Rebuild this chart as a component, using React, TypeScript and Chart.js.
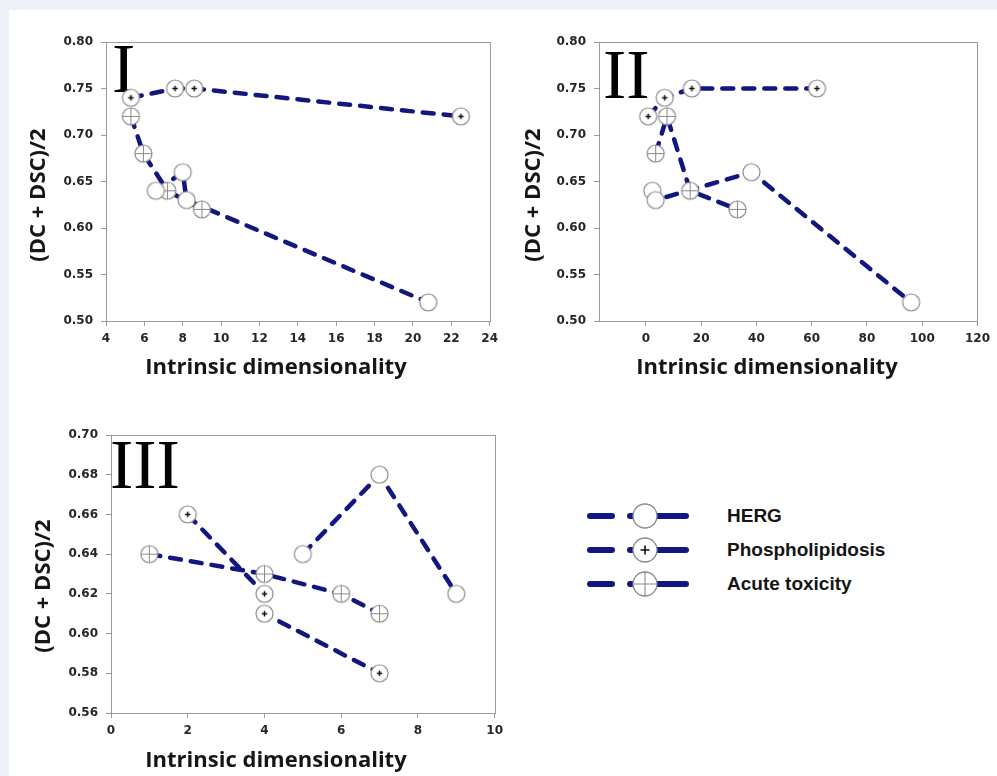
import React, { useEffect, useRef } from "react";
import { Chart, registerables } from "chart.js";
Chart.register(...registerables);

// ---------- DATA ----------
const SERIES_NAMES = ["HERG", "Phospholipidosis", "Acute toxicity"];

// Panel I
const P1_HERG_X = [6.6, 8.0, 8.2, 20.8];
const P1_HERG_Y = [0.64, 0.66, 0.63, 0.52];
const P1_PHOS_X = [5.3, 7.6, 8.6, 22.5];
const P1_PHOS_Y = [0.74, 0.75, 0.75, 0.72];
const P1_ACUTE_X = [5.3, 5.95, 7.2, 9.0];
const P1_ACUTE_Y = [0.72, 0.68, 0.64, 0.62];
const P1_X_TICKS = [4, 6, 8, 10, 12, 14, 16, 18, 20, 22, 24];
const P1_Y_TICKS = [0.5, 0.55, 0.6, 0.65, 0.7, 0.75, 0.8];

// Panel II
const P2_HERG_X = [2.3, 3.5, 38.2, 96];
const P2_HERG_Y = [0.64, 0.63, 0.66, 0.52];
const P2_PHOS_X = [0.8, 6.8, 16.6, 61.9];
const P2_PHOS_Y = [0.72, 0.74, 0.75, 0.75];
const P2_ACUTE_X = [3.5, 7.6, 16, 33.1];
const P2_ACUTE_Y = [0.68, 0.72, 0.64, 0.62];
const P2_X_TICKS = [0, 20, 40, 60, 80, 100, 120];
const P2_Y_TICKS = [0.5, 0.55, 0.6, 0.65, 0.7, 0.75, 0.8];

// Panel III
const P3_HERG_X = [5, 7, 9];
const P3_HERG_Y = [0.64, 0.68, 0.62];
const P3_PHOS_X = [2, 4, 4, 7];
const P3_PHOS_Y = [0.66, 0.62, 0.61, 0.58];
const P3_ACUTE_X = [1, 4, 6, 7];
const P3_ACUTE_Y = [0.64, 0.63, 0.62, 0.61];
const P3_X_TICKS = [0, 2, 4, 6, 8, 10];
const P3_Y_TICKS = [0.56, 0.58, 0.6, 0.62, 0.64, 0.66, 0.68, 0.7];

const X_TITLE = "Intrinsic dimensionality";
const Y_TITLE = "(DC + DSC)/2";

// ---------- STYLE ----------
const LINE_COLOR = "#12167f";
const MARKER_STROKE = "#8a8a8a";
const TICK_FONT = { family: "'DejaVu Sans', sans-serif", size: 12, weight: "bold" as const };
const TITLE_FONT = "bold 22px 'Open Sans', sans-serif";
const NUMERAL_FONT = "70px 'Liberation Serif', serif";

type Kind = "herg" | "phos" | "acute";

function makeMarker(kind: Kind, r: number): HTMLCanvasElement {
  const size = Math.ceil(r * 2 + 4);
  const c = document.createElement("canvas");
  c.width = size;
  c.height = size;
  const ctx = c.getContext("2d")!;
  const m = size / 2;
  ctx.fillStyle = "#ffffff";
  ctx.strokeStyle = MARKER_STROKE;
  ctx.lineWidth = 1.2;
  ctx.beginPath();
  ctx.arc(m, m, r, 0, Math.PI * 2);
  ctx.fill();
  ctx.stroke();
  if (kind === "acute") {
    ctx.lineWidth = 1;
    ctx.beginPath();
    ctx.moveTo(m - r, m);
    ctx.lineTo(m + r, m);
    ctx.moveTo(m, m - r);
    ctx.lineTo(m, m + r);
    ctx.stroke();
  } else if (kind === "phos") {
    const a = r * 0.32;
    ctx.strokeStyle = "#111";
    ctx.lineWidth = 1.5;
    ctx.beginPath();
    ctx.moveTo(m - a, m);
    ctx.lineTo(m + a, m);
    ctx.moveTo(m, m - a);
    ctx.lineTo(m, m + a);
    ctx.stroke();
  }
  return c;
}

interface PanelSpec {
  left: number; top: number; width: number; height: number; // canvas, page coords
  plotL: number; plotT: number; plotR: number; plotB: number; // plot frame, page coords
  xMin: number; xMax: number; yMin: number; yMax: number;
  xTicks: number[]; yTicks: number[];
  series: { kind: Kind; xs: number[]; ys: number[] }[];
  numeral: string; numX: number; numY: number;
  xTitleX: number; xTitleY: number; yTitleX: number; yTitleY: number;
}

const PANELS: PanelSpec[] = [
  {
    left: 10, top: 20, width: 494, height: 370,
    plotL: 106, plotT: 42, plotR: 490, plotB: 321,
    xMin: 4, xMax: 24, yMin: 0.5, yMax: 0.8,
    xTicks: P1_X_TICKS, yTicks: P1_Y_TICKS,
    series: [
      { kind: "herg", xs: P1_HERG_X, ys: P1_HERG_Y },
      { kind: "phos", xs: P1_PHOS_X, ys: P1_PHOS_Y },
      { kind: "acute", xs: P1_ACUTE_X, ys: P1_ACUTE_Y },
    ],
    numeral: "I", numX: 112, numY: 92,
    xTitleX: 276, xTitleY: 368, yTitleX: 39, yTitleY: 195,
  },
  {
    left: 505, top: 20, width: 491, height: 370,
    plotL: 599, plotT: 42, plotR: 982, plotB: 321,
    xMin: -17, xMax: 120, yMin: 0.5, yMax: 0.8,
    xTicks: P2_X_TICKS, yTicks: P2_Y_TICKS,
    series: [
      { kind: "herg", xs: P2_HERG_X, ys: P2_HERG_Y },
      { kind: "phos", xs: P2_PHOS_X, ys: P2_PHOS_Y },
      { kind: "acute", xs: P2_ACUTE_X, ys: P2_ACUTE_Y },
    ],
    numeral: "II", numX: 603, numY: 98,
    xTitleX: 767, xTitleY: 368, yTitleX: 534, yTitleY: 195,
  },
  {
    left: 10, top: 410, width: 499, height: 366,
    plotL: 111, plotT: 435, plotR: 495, plotB: 713,
    xMin: 0, xMax: 10, yMin: 0.56, yMax: 0.7,
    xTicks: P3_X_TICKS, yTicks: P3_Y_TICKS,
    series: [
      { kind: "herg", xs: P3_HERG_X, ys: P3_HERG_Y },
      { kind: "phos", xs: P3_PHOS_X, ys: P3_PHOS_Y },
      { kind: "acute", xs: P3_ACUTE_X, ys: P3_ACUTE_Y },
    ],
    numeral: "III", numX: 110, numY: 488,
    xTitleX: 276, xTitleY: 761, yTitleX: 44, yTitleY: 586,
  },
];

function Panel({ spec }: { spec: PanelSpec }) {
  const ref = useRef<HTMLCanvasElement | null>(null);
  useEffect(() => {
    const canvas = ref.current!;
    const markers: Record<Kind, HTMLCanvasElement> = {
      herg: makeMarker("herg", 8.5),
      phos: makeMarker("phos", 8.5),
      acute: makeMarker("acute", 8.5),
    };
    const datasets: any[] = [];
    spec.series.forEach((s, si) => {
      const data = s.xs.map((x, i) => ({ x, y: s.ys[i] }));
      datasets.push({
        label: SERIES_NAMES[si] + " line",
        data,
        showLine: true,
        pointRadius: 0,
        borderColor: LINE_COLOR,
        borderWidth: 4.5,
        borderDash: [11, 10],
        borderCapStyle: "round",
        tension: 0,
        order: 2,
      });
      datasets.push({
        label: SERIES_NAMES[si],
        data,
        showLine: false,
        pointStyle: markers[s.kind],
        pointRadius: 9,
        order: 1,
      });
    });

    const ox = spec.left, oy = spec.top;
    const panelPlugin = {
      id: "panelDecor",
      beforeDatasetsDraw(chart: any) {
        const { ctx, chartArea: a } = chart;
        ctx.save();
        ctx.strokeStyle = "#9a9a9a";
        ctx.lineWidth = 1;
        ctx.strokeRect(Math.round(a.left) + 0.5, Math.round(a.top) + 0.5, Math.round(a.right - a.left), Math.round(a.bottom - a.top));
        ctx.fillStyle = "#000";
        ctx.font = NUMERAL_FONT;
        ctx.textAlign = "left";
        ctx.textBaseline = "alphabetic";
        ctx.fillText(spec.numeral, spec.numX - ox, spec.numY - oy);
        ctx.restore();
      },
      afterDraw(chart: any) {
        const { ctx } = chart;
        ctx.save();
        ctx.fillStyle = "#161616";
        ctx.font = TITLE_FONT;
        ctx.textAlign = "center";
        ctx.textBaseline = "middle";
        ctx.fillText(X_TITLE, spec.xTitleX - ox, spec.xTitleY - oy);
        ctx.translate(spec.yTitleX - ox, spec.yTitleY - oy);
        ctx.rotate(-Math.PI / 2);
        ctx.fillText(Y_TITLE, 0, 0);
        ctx.restore();
      },
    };

    const chart = new Chart(canvas, {
      type: "scatter",
      data: { datasets },
      options: {
        animation: false,
        responsive: false,
        devicePixelRatio: 1,
        layout: {
          padding: {
            left: 0,
            top: spec.plotT - spec.top,
            right: spec.left + spec.width - spec.plotR,
            bottom: 0,
          },
        },
        plugins: { legend: { display: false }, tooltip: { enabled: false }, title: { display: false } },
        scales: {
          x: {
            type: "linear",
            min: spec.xMin,
            max: spec.xMax,
            afterBuildTicks: (scale: any) => {
              scale.ticks = spec.xTicks.map((v) => ({ value: v }));
            },
            afterFit: (scale: any) => {
              scale.height = spec.top + spec.height - spec.plotB;
            },
            ticks: {
              autoSkip: false,
              maxRotation: 0,
              padding: 6,
              color: "#262626",
              font: TICK_FONT,
              callback: (v: any) => String(v),
            },
            grid: { display: true, drawOnChartArea: false, drawTicks: true, tickLength: 5, color: "#9a9a9a" },
            border: { display: true, color: "#9a9a9a", width: 1 },
          },
          y: {
            type: "linear",
            min: spec.yMin,
            max: spec.yMax,
            afterBuildTicks: (scale: any) => {
              scale.ticks = spec.yTicks.map((v) => ({ value: v }));
            },
            afterFit: (scale: any) => {
              scale.width = spec.plotL - spec.left;
            },
            ticks: {
              autoSkip: false,
              padding: 8,
              color: "#262626",
              font: TICK_FONT,
              callback: (v: any) => Number(v).toFixed(2),
            },
            grid: { display: true, drawOnChartArea: false, drawTicks: true, tickLength: 5, color: "#9a9a9a" },
            border: { display: true, color: "#9a9a9a", width: 1 },
          },
        },
      },
      plugins: [panelPlugin],
    } as any);
    return () => chart.destroy();
  }, [spec]);
  return (
    <canvas
      ref={ref}
      width={spec.width}
      height={spec.height}
      style={{ position: "absolute", left: spec.left, top: spec.top, width: spec.width, height: spec.height }}
    />
  );
}

const LEGEND_ROWS_Y = [516, 550, 584];
const LEGEND_KINDS: Kind[] = ["herg", "phos", "acute"];

function Legend() {
  const sx = 580, sy = 495;
  return (
    <>
      <svg
        width={120}
        height={110}
        style={{ position: "absolute", left: sx, top: sy }}
      >
        {LEGEND_KINDS.map((k, i) => {
          const y = LEGEND_ROWS_Y[i] - sy;
          const cx = 65, r = 12;
          return (
            <g key={k}>
              <line x1={10} y1={y} x2={32} y2={y} stroke={LINE_COLOR} strokeWidth={6} strokeLinecap="round" />
              <line x1={50} y1={y} x2={106} y2={y} stroke={LINE_COLOR} strokeWidth={6} strokeLinecap="round" />
              <circle cx={cx} cy={y} r={r} fill="#fff" stroke={MARKER_STROKE} strokeWidth={1.3} />
              {k === "acute" && (
                <path d={`M${cx - r} ${y}H${cx + r}M${cx} ${y - r}V${y + r}`} stroke={MARKER_STROKE} strokeWidth={1.1} />
              )}
              {k === "phos" && (
                <path d={`M${cx - 4.5} ${y}H${cx + 4.5}M${cx} ${y - 4.5}V${y + 4.5}`} stroke="#111" strokeWidth={1.6} />
              )}
            </g>
          );
        })}
      </svg>
      {SERIES_NAMES.map((name, i) => (
        <div
          key={name}
          style={{
            position: "absolute",
            left: 727,
            top: LEGEND_ROWS_Y[i] - 12,
            height: 24,
            lineHeight: "24px",
            fontFamily: "'Liberation Sans', Arial, sans-serif",
            fontWeight: "bold",
            fontSize: 19,
            color: "#151515",
            whiteSpace: "nowrap",
          }}
        >
          {name}
        </div>
      ))}
    </>
  );
}

export default function App() {
  return (
    <div
      style={{
        position: "fixed",
        left: 0,
        top: 0,
        width: 997,
        height: 776,
        background: "#eef1f7",
        overflow: "hidden",
      }}
    >
      <div style={{ position: "absolute", left: 9, top: 10, right: 0, bottom: 0, background: "#ffffff" }} />
      {PANELS.map((p, i) => (
        <Panel key={i} spec={p} />
      ))}
      <Legend />
    </div>
  );
}
